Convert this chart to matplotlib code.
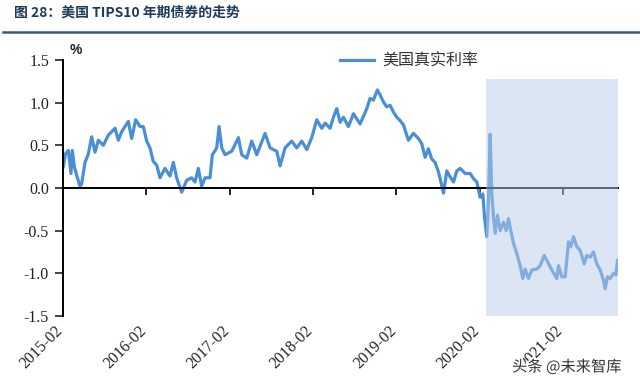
import numpy as np
import pandas as pd
import matplotlib
matplotlib.use("Agg")
import matplotlib.pyplot as plt
import matplotlib.patheffects as pe
from matplotlib.lines import Line2D
from matplotlib.ticker import FormatStrFormatter
import matplotlib.transforms as mtransforms

t_years = [0.004, 0.03, 0.064, 0.096, 0.112, 0.136, 0.164, 0.204, 0.224, 0.264,
           0.304, 0.344, 0.384, 0.424, 0.484, 0.544, 0.624, 0.664, 0.704, 0.784,
           0.824, 0.872, 0.924, 0.964, 1.004, 1.044, 1.084, 1.124, 1.164, 1.224,
           1.284, 1.324, 1.364, 1.424, 1.484, 1.544, 1.584, 1.624, 1.664, 1.704,
           1.764, 1.792, 1.845, 1.873, 1.905, 1.945, 2.025, 2.105, 2.145, 2.205,
           2.265, 2.325, 2.425, 2.485, 2.565, 2.605, 2.665, 2.745, 2.805, 2.865,
           2.925, 2.985, 3.045, 3.105, 3.145, 3.205, 3.245, 3.285, 3.325, 3.365,
           3.425, 3.485, 3.565, 3.645, 3.685, 3.725, 3.773, 3.805, 3.845, 3.885,
           3.925, 3.965, 4.005, 4.045, 4.085, 4.145, 4.205, 4.265, 4.305, 4.345,
           4.385, 4.425, 4.465, 4.505, 4.545, 4.566, 4.606, 4.646, 4.686, 4.726,
           4.766, 4.826, 4.886, 4.926, 4.966, 5.006, 5.038, 5.058, 5.086, 5.106,
           5.126, 5.146, 5.166, 5.186, 5.214, 5.246, 5.286, 5.318, 5.346, 5.374,
           5.406, 5.446, 5.486, 5.518, 5.546, 5.586, 5.626, 5.686, 5.726, 5.774,
           5.806, 5.866, 5.926, 5.946, 5.986, 6.026, 6.066, 6.094, 6.126, 6.166,
           6.206, 6.254, 6.286, 6.326, 6.366, 6.406, 6.446, 6.486, 6.506, 6.534,
           6.566, 6.606, 6.634, 6.654]
real_rate = [0.25, 0.40, 0.44, 0.17, 0.44, 0.25, 0.15, 0.02, 0.05, 0.30,
             0.40, 0.60, 0.42, 0.56, 0.50, 0.62, 0.70, 0.56, 0.66, 0.78,
             0.58, 0.80, 0.72, 0.72, 0.55, 0.47, 0.31, 0.27, 0.12, 0.23,
             0.14, 0.30, 0.12, -0.05, 0.09, 0.12, 0.07, 0.23, 0.02, 0.12,
             0.12, 0.39, 0.47, 0.72, 0.47, 0.39, 0.43, 0.59, 0.39, 0.35,
             0.55, 0.39, 0.64, 0.47, 0.43, 0.26, 0.47, 0.55, 0.47, 0.55,
             0.45, 0.59, 0.80, 0.70, 0.76, 0.70, 0.83, 0.93, 0.77, 0.83,
             0.72, 0.87, 0.75, 0.93, 1.05, 1.03, 1.15, 1.09, 1.01, 0.95,
             0.97, 0.89, 0.83, 0.79, 0.74, 0.56, 0.64, 0.58, 0.52, 0.36,
             0.46, 0.34, 0.30, 0.19, 0.03, -0.06, 0.20, 0.13, 0.07, 0.20,
             0.23, 0.17, 0.17, 0.11, 0.07, -0.11, -0.07, -0.34, -0.57, -0.14,
             0.63, -0.07, -0.34, -0.53, -0.32, -0.50, -0.40, -0.50, -0.36, -0.50,
             -0.65, -0.77, -0.91, -1.06, -0.95, -1.06, -0.96, -0.95, -0.91, -0.79,
             -0.85, -0.96, -1.06, -0.91, -1.04, -1.04, -0.63, -0.69, -0.57, -0.69,
             -0.73, -0.89, -0.79, -0.81, -0.75, -0.89, -0.96, -1.08, -1.18, -1.04,
             -1.06, -1.00, -1.02, -0.85]

tick_years = [2015, 2016, 2017, 2018, 2019, 2020, 2021]
tick_labels = [f"{y}-02" for y in tick_years]
yticks = [-1.5, -1.0, -0.5, 0.0, 0.5, 1.0, 1.5]

shade_start = "2020-02-28"
shade_top = 1.28

start = pd.Timestamp("2015-02-01")
dates = start + pd.to_timedelta(np.array(t_years) * 365.25, unit="D")
end = start + pd.to_timedelta(6.66 * 365.25, unit="D")

fig = plt.figure(figsize=(6.4, 3.9), dpi=100)
ax = fig.add_axes([63 / 640, 1 - 316 / 390, 555 / 640, 256 / 390])

ax.plot(dates, real_rate, color="#4a8fd6", lw=2.3, zorder=2, label="美国真实利率")
ax.axvspan(pd.Timestamp(shade_start), end, ymin=0, ymax=(shade_top + 1.5) / 3,
           color="#b8cce8", alpha=0.5, lw=0, zorder=4)

ax.set_xlim(start, end)
ax.set_ylim(-1.5, 1.5)
ax.set_yticks(yticks)
ax.yaxis.set_major_formatter(FormatStrFormatter("%.1f"))
for lab in ax.get_yticklabels():
    lab.set_family("Liberation Serif")
    lab.set_fontsize(11.5)
ax.tick_params(axis="y", direction="out", length=6, width=1.2, pad=4, colors="#222222")

ticks = [pd.Timestamp(f"{y}-02-01") for y in tick_years]
ax.set_xticks(ticks)
ax.tick_params(axis="x", direction="out", length=5, width=1.2, labelbottom=False)
ax.spines["bottom"].set_position(("data", 0))
ax.spines["bottom"].set_linewidth(1.4)
ax.spines["left"].set_linewidth(1.4)
ax.spines["top"].set_visible(False)
ax.spines["right"].set_visible(False)

trans = mtransforms.blended_transform_factory(ax.transData, ax.transAxes)
trans = trans + mtransforms.ScaledTranslation(3 / 100, 0, fig.dpi_scale_trans)
for d, lab in zip(ticks, tick_labels):
    ax.text(d, -0.025, lab, transform=trans, rotation=45, ha="right", va="top",
            family="Liberation Serif", fontsize=11.5, color="#222222")

leg = ax.legend(loc="center left", bbox_to_anchor=(340 / 640, 1 - 61 / 390),
                bbox_transform=fig.transFigure, frameon=False, borderpad=0,
                borderaxespad=0, handlelength=2.1, handletextpad=0.55,
                prop={"family": ["Noto Sans CJK SC", "DejaVu Sans"], "size": 11.5})
for txt in leg.get_texts():
    txt.set_color("#333333")

fig.text(70 / 640, 1 - 50 / 390, "%", fontsize=10, fontweight="bold",
         family="Liberation Sans", color="#222222", va="center")

fig.text(14 / 640, 1 - 13 / 390, "图 28：美国 TIPS10 年期债券的走势", fontsize=10,
         fontweight="bold", family=["Noto Sans CJK SC", "DejaVu Sans"],
         color="#1f3a5a", va="center")
fig.add_artist(Line2D([3 / 640, 1], [1 - 32 / 390] * 2, color="#3b5a7a", lw=1.8))

fig.text(512 / 640, 1 - 367 / 390, "头条 @未来智库", fontsize=11,
         family=["Noto Sans CJK SC", "DejaVu Sans"], color="#333333", va="center",
         path_effects=[pe.withStroke(linewidth=2.5, foreground="white")])

fig.savefig("out.png", dpi=100)
